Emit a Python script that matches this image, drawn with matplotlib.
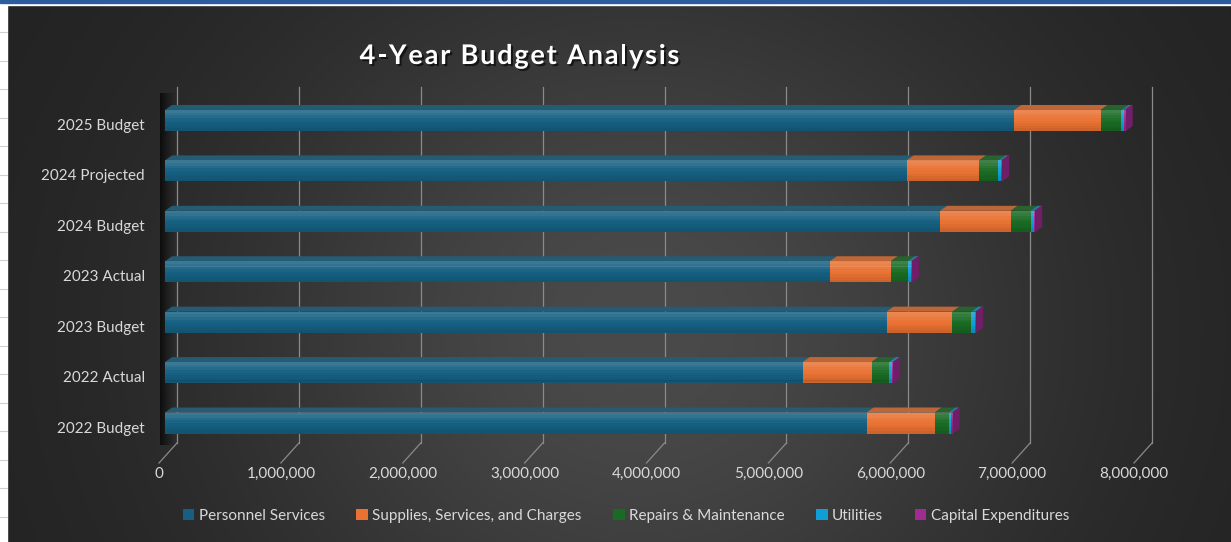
import numpy as np
import matplotlib
matplotlib.use("Agg")
import matplotlib.pyplot as plt
from matplotlib.patches import Polygon, Rectangle, Patch
from matplotlib.transforms import ScaledTranslation
import matplotlib.patheffects as pe
from matplotlib.colors import to_rgb

plt.rcParams["font.family"] = ["Lato", "DejaVu Sans"]

# ---- data -------------------------------------------------------------
categories = ["2022 Budget", "2022 Actual", "2023 Budget", "2023 Actual",
              "2024 Budget", "2024 Projected", "2025 Budget"]
series_names = ["Personnel Services", "Supplies, Services, and Charges",
                "Repairs & Maintenance", "Utilities", "Capital Expenditures"]
personnel = [5_756_000, 5_231_000, 5_920_000, 5_455_000, 6_358_000, 6_085_000, 6_967_000]
supplies = [560_000, 566_000, 541_000, 500_000, 582_000, 596_000, 711_000]
repairs = [115_000, 144_000, 156_000, 142_000, 164_000, 156_000, 170_000]
utilities = [22_000, 28_000, 30_000, 22_000, 25_000, 20_000, 20_000]
capital = [10_000, 6_000, 8_000, 10_000, 11_000, 12_000, 15_000]
x_ticks = [0, 1_000_000, 2_000_000, 3_000_000, 4_000_000,
           5_000_000, 6_000_000, 7_000_000, 8_000_000]
title = "4-Year Budget Analysis"

colors = ["#156082", "#E97132", "#196B24", "#0F9ED5", "#A02B93"]
text_color = "#d9d9d9"

W, H = 1231, 542
fig = plt.figure(figsize=(W / 100, H / 100), dpi=100)

# ---- background: dark gradient chart area -----------------------------
bg = fig.add_axes([0, 0, 1, 1])
bg.set_xlim(0, W)
bg.set_ylim(H, 0)
bg.axis("off")
yy, xx = np.mgrid[0:H, 0:W]
v = 0.13 + 0.16 * np.exp(-(((xx - 640) / 420) ** 2 + ((yy - 330) / 380) ** 2))
bg.imshow(np.dstack([v, v, v]), extent=(0, W, H, 0), aspect="auto", zorder=0)
bg.add_patch(Rectangle((0, 0), 7, H, color="white", zorder=1))
bg.add_patch(Rectangle((0, 0), W, 5, color="white", zorder=1))
bg.add_patch(Rectangle((0, 0), W, 3, color="#2c5c9c", zorder=2))
for yl in np.arange(32, H, 28.5):
    bg.plot([0, 7], [yl, yl], color="#d0d0d0", lw=0.8, zorder=2)

# shaded left wall of the 3-D plot
t = np.linspace(0, 1, 40)
wall = np.zeros((2, 40, 4))
wall[..., 3] = 0.7 * (1 - t) ** 1.4
bg.imshow(wall, extent=(160, 177, 445, 93), aspect="auto", zorder=3,
          interpolation="bilinear")

# ---- main axes ----------------------------------------------------------
ax = fig.add_axes([165 / W, (H - 463) / H, 975 / W, 376 / H])
ax.set_xlim(0, 8e6)
ax.set_ylim(-0.793, 6.664)
ax.patch.set_alpha(0)
for s in ax.spines.values():
    s.set_visible(False)

px_x = 8e6 / 975                # data units per pixel (x)
px_y = (6.664 + 0.793) / 376    # data units per pixel (y)
y0, y1 = ax.get_ylim()

# back-wall gridlines with their floor connectors
wall_dx, wall_dy, front_dx = 12 * px_x, 20 * px_y, -6 * px_x
for xv in x_ticks:
    xb = xv + wall_dx
    ax.plot([xb, xb], [y0 + wall_dy, y1], color="#8a8a8a", lw=0.9,
            zorder=1, clip_on=False)
    ax.plot([xb, xv + front_dx], [y0 + wall_dy, y0], color="#8a8a8a",
            lw=0.9, zorder=1, clip_on=False)

# stacked 3-D bars
ypos = np.arange(len(categories))
bh = 0.417
dx, dy = 7 * px_x, 5 * px_y
gray = np.array([0.3, 0.3, 0.3])
left = np.zeros(len(categories))
all_series = [personnel, supplies, repairs, utilities, capital]
n_bands = 8
band_h = bh / n_bands
# brightness profile across the front face: light near the top, darker below
band_alpha = [0.16, 0.12, 0.07, 0.03, 0.0, -0.04, -0.08, -0.12]
for vals, c in zip(all_series, colors):
    vals = np.array(vals, dtype=float)
    ax.barh(ypos, vals, left=left, height=bh, color=c, lw=0, zorder=3)
    for k, a in enumerate(band_alpha):
        if a == 0:
            continue
        yc = ypos + bh / 2 - band_h * (k + 0.5)
        ax.barh(yc, vals, left=left, height=band_h * 1.02,
                color="white" if a > 0 else "black", alpha=abs(a),
                lw=0, zorder=4)
    top_col = 0.72 * np.array(to_rgb(c)) + 0.28 * gray
    for yi, l, w in zip(ypos, left, vals):
        top = yi + bh / 2
        ax.add_patch(Polygon([(l, top), (l + w, top), (l + w + dx, top + dy),
                              (l + dx, top + dy)], closed=True,
                             facecolor=top_col, lw=0, zorder=3))
    left = left + vals

side_col = 0.7 * np.array(to_rgb(colors[-1]))
for yi, r in zip(ypos, left):
    b, tp = yi - bh / 2, yi + bh / 2
    ax.add_patch(Polygon([(r, b), (r, tp), (r + dx, tp + dy), (r + dx, b + dy)],
                         closed=True, facecolor=side_col, lw=0, zorder=3))

# axes ticks and labels
ax.set_xticks(x_ticks, [f"{v:,.0f}" for v in x_ticks])
ax.tick_params(axis="x", length=0, pad=3, colors=text_color, labelsize=11)
for lab in ax.get_xticklabels():
    lab.set_transform(lab.get_transform() +
                      ScaledTranslation(-6 / 100, 0, fig.dpi_scale_trans))
ax.set_yticks(ypos, categories)
ax.tick_params(axis="y", length=0, pad=14.5, colors=text_color, labelsize=11)
for lab in ax.get_yticklabels():
    lab.set_transform(lab.get_transform() +
                      ScaledTranslation(0, -4 / 100, fig.dpi_scale_trans))

# legend
handles = [Patch(facecolor=c, edgecolor="none") for c in colors]
fig.legend(handles, series_names, loc="center",
           bbox_to_anchor=(626 / W, 1 - 516 / H), ncol=5, frameon=False,
           handlelength=0.75, handleheight=0.75, handletextpad=0.3,
           columnspacing=2.05, fontsize=11, labelcolor=text_color)

# title, drawn glyph by glyph with extra tracking
renderer = fig.canvas.get_renderer()
title_kw = dict(fontsize=19.5, fontweight="bold", color="white",
                va="center", ha="left")
shadow = [pe.SimplePatchShadow(offset=(1.5, -1.5), shadow_rgbFace="black",
                               alpha=0.6), pe.Normal()]
tracking = 1.8  # px between glyphs


def text_width(s):
    tmp = fig.text(0, 0, s + "|", **title_kw)
    w_full = tmp.get_window_extent(renderer).width
    tmp.remove()
    bar = fig.text(0, 0, "|", **title_kw)
    w_bar = bar.get_window_extent(renderer).width
    bar.remove()
    return w_full - w_bar


total = text_width(title) + tracking * (len(title) - 1)
x_start = 519.5 - total / 2
for i, ch in enumerate(title):
    if ch == " ":
        continue
    xpix = x_start + (text_width(title[:i]) if i else 0) + tracking * i
    fig.text(xpix / W, 1 - 56 / H, ch, path_effects=shadow, **title_kw)

fig.savefig("out.png", dpi=100)
